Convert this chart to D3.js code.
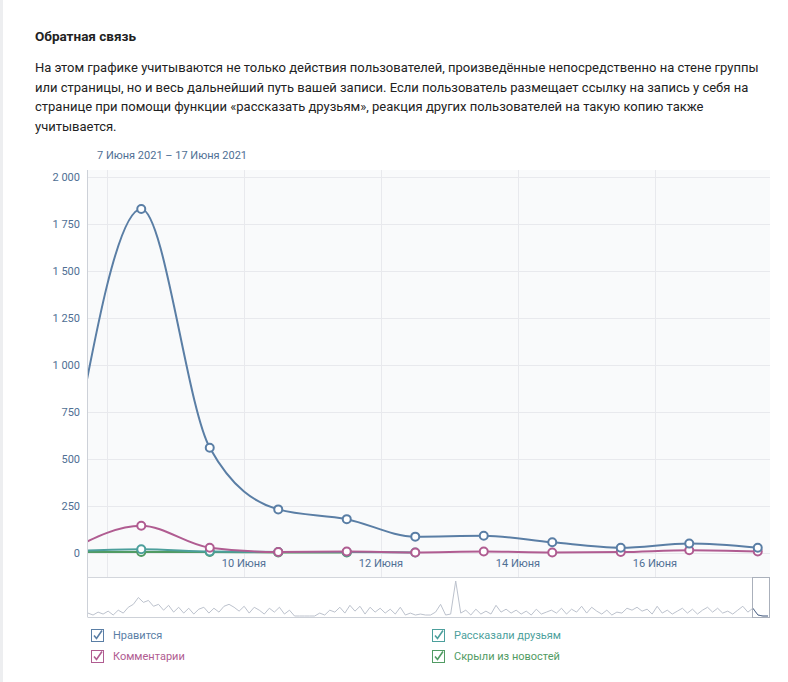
<!DOCTYPE html>
<html>
<head>
<meta charset="utf-8">
<script src="https://cdn.jsdelivr.net/npm/d3@7"></script>
<style>
  html, body { margin: 0; padding: 0; background: #fff; }
  svg { display: block; font-family: Roboto, "Open Sans", sans-serif; }
</style>
</head>
<body>
<div id="chart"></div>
<script>
// days (noon of each day)
const days = [7, 8, 9, 10, 11, 12, 13, 14, 15, 16, 17];

const likes    = [525, 1830, 560, 232, 180, 87, 92, 57, 28, 50, 28];
const comments = [24, 145, 28, 5, 8, 3, 8, 3, 5, 15, 8];
const reposts  = [10, 20, 8, 5, 5, 3];
const hidden   = [6, 5, 5, 3, 3];

const yTicks = [0, 250, 500, 750, 1000, 1250, 1500, 1750, 2000];
const xTickDays = [10, 12, 14, 16];
const gridDays = [8, 10, 12, 14, 16];

// overview strip under the chart (activity, whole period)
const overview = [
  3, 1, 4, 2, 5, 1, 6, 3, 9, 12,
  19, 14, 16, 10, 12, 6, 11, 4, 9, 3,
  8, 2, 7, 9, 3, 8, 4, 10, 12, 9,
  5, 10, 3, 9, 6, 2, 8, 4, 9, 2,
  6, 0, 0, 0, 0, 0, 3, 1, 6, 4,
  9, 3, 11, 5, 10, 2, 9, 4, 8, 3,
  7, 2, 9, 1, 3, 1, 2, 1, 1, 4,
  12, 1, 2, 36, 3, 6, 1, 7, 2, 5,
  2, 11, 4, 7, 3, 6, 2, 5, 1, 7,
  2, 4, 6, 3, 8, 2, 7, 4, 10, 3,
  9, 5, 2, 6, 1, 4, 3, 8, 6, 9,
  5, 7, 2, 10, 3, 6, 2, 5, 8, 3,
  7, 2, 6, 9, 4, 8, 3, 5, 2, 6,
  10, 4, 8, 1, 0, 0
];

const seriesNames = ["Нравится", "Комментарии", "Рассказали друзьям", "Скрыли из новостей"];
const color = {
  likes: "#5a7ea5",
  comments: "#b05c91",
  reposts: "#4c9f9c",
  hidden: "#519b63"
};

const width = 788;
const height = 682;
const plot = {left: 88, right: 770, top: 177, bottom: 553};

const svg = d3.select("#chart")
  .append("svg")
  .attr("width", width)
  .attr("height", height)
  .attr("viewBox", `0 0 ${width} ${height}`);

// left page strip
svg.append("rect").attr("x", 0).attr("y", 0).attr("width", 3).attr("height", height).attr("fill", "#edeef0");

// header text
svg.append("text")
  .attr("x", 35).attr("y", 41)
  .attr("font-size", 13.5).attr("font-weight", "bold").attr("fill", "#222")
  .text("Обратная связь");

const para = [
  "На этом графике учитываются не только действия пользователей, произведённые непосредственно на стене группы",
  "или страницы, но и весь дальнейший путь вашей записи. Если пользователь размещает ссылку на запись у себя на",
  "странице при помощи функции «рассказать друзьям», реакция других пользователей на такую копию также",
  "учитывается."
];
svg.append("g").selectAll("text")
  .data(para)
  .enter()
  .append("text")
  .attr("x", 35)
  .attr("y", (d, i) => 72 + i * 19.6)
  .attr("font-size", 13)
  .attr("fill", "#222")
  .text(d => d);

svg.append("text")
  .attr("x", 97).attr("y", 159)
  .attr("font-size", 11).attr("fill", "#4f6f94")
  .text("7 Июня 2021 – 17 Июня 2021");

// scales
const day = d => new Date(2021, 5, d);
const noon = d => new Date(2021, 5, d, 12);

const xScale = d3.scaleTime()
  .domain([day(8), day(16)])
  .range([107, 655]);

const yScale = d3.scaleLinear()
  .domain([0, 2000])
  .range([plot.bottom, plot.top]);

// plot background
svg.append("rect")
  .attr("x", plot.left).attr("y", 170)
  .attr("width", plot.right - plot.left).attr("height", 577 - 170)
  .attr("fill", "#f9fafb");

// grid
svg.append("g").selectAll("line")
  .data(yTicks)
  .enter()
  .append("line")
  .attr("x1", plot.left).attr("x2", plot.right)
  .attr("y1", d => Math.round(yScale(d)) + 0.5)
  .attr("y2", d => Math.round(yScale(d)) + 0.5)
  .attr("stroke", "#e8e9ed");

svg.append("g").selectAll("line")
  .data(gridDays)
  .enter()
  .append("line")
  .attr("x1", d => Math.round(xScale(day(d))) + 0.5)
  .attr("x2", d => Math.round(xScale(day(d))) + 0.5)
  .attr("y1", 170).attr("y2", 577)
  .attr("stroke", "#e8e9ed");

// y axis labels
svg.append("g").selectAll("text")
  .data(yTicks)
  .enter()
  .append("text")
  .attr("x", 80)
  .attr("y", d => yScale(d) + 4)
  .attr("text-anchor", "end")
  .attr("font-size", 11)
  .attr("fill", "#4f6f94")
  .text(d => d3.format(",")(d).replace(/,/g, " "));

// x axis labels
svg.append("g").selectAll("text")
  .data(xTickDays)
  .enter()
  .append("text")
  .attr("x", d => xScale(day(d)))
  .attr("y", 567)
  .attr("text-anchor", "middle")
  .attr("font-size", 11)
  .attr("fill", "#4f6f94")
  .text(d => `${d} Июня`);

// frame lines
svg.append("line").attr("x1", 87.5).attr("x2", 87.5).attr("y1", 170).attr("y2", 617).attr("stroke", "#cdd1d8");
svg.append("line").attr("x1", 87.5).attr("x2", plot.right).attr("y1", 577.5).attr("y2", 577.5).attr("stroke", "#d3d6dc");
svg.append("line").attr("x1", 87.5).attr("x2", plot.right).attr("y1", 617.5).attr("y2", 617.5).attr("stroke", "#cdd1d8");

// series
svg.append("clipPath").attr("id", "clip")
  .append("rect")
  .attr("x", plot.left).attr("y", 165)
  .attr("width", plot.right - plot.left).attr("height", 577 - 165);

const line = d3.line()
  .x((d, i) => xScale(noon(days[i])))
  .y(d => yScale(d))
  .curve(d3.curveMonotoneX);

const series = [
  {key: "hidden", values: hidden},
  {key: "reposts", values: reposts},
  {key: "comments", values: comments},
  {key: "likes", values: likes}
];

const g = svg.append("g").attr("clip-path", "url(#clip)");

series.forEach(s => {
  g.append("path")
    .datum(s.values)
    .attr("d", line)
    .attr("fill", "none")
    .attr("stroke", color[s.key])
    .attr("stroke-width", 2);

  g.selectAll(`circle.${s.key}`)
    .data(s.values)
    .enter()
    .append("circle")
    .attr("class", s.key)
    .attr("cx", (d, i) => xScale(noon(days[i])))
    .attr("cy", d => yScale(d))
    .attr("r", 4)
    .attr("fill", "#fff")
    .attr("stroke", color[s.key])
    .attr("stroke-width", 2);
});

// overview strip
const ovX = d3.scaleLinear().domain([0, overview.length - 1]).range([88, 768]);
const ovY = d3.scaleLinear().domain([0, 36]).range([616, 581]);
const ovLine = d3.line()
  .x((d, i) => ovX(i))
  .y(d => ovY(d));

svg.append("path")
  .datum(overview)
  .attr("d", ovLine)
  .attr("fill", "none")
  .attr("stroke", "#bcc2cd")
  .attr("stroke-width", 1);

svg.append("clipPath").attr("id", "sel")
  .append("rect").attr("x", 752).attr("y", 577).attr("width", 17).attr("height", 40);

svg.append("path")
  .datum(overview)
  .attr("d", ovLine)
  .attr("clip-path", "url(#sel)")
  .attr("fill", "none")
  .attr("stroke", "#5a6f90")
  .attr("stroke-width", 1);

svg.append("rect")
  .attr("x", 752.5).attr("y", 577.5)
  .attr("width", 17).attr("height", 40)
  .attr("fill", "none")
  .attr("stroke", "#aab0bb");

// legend
const legend = [
  {name: seriesNames[0], key: "likes", col: 0, row: 0},
  {name: seriesNames[1], key: "comments", col: 0, row: 1},
  {name: seriesNames[2], key: "reposts", col: 1, row: 0},
  {name: seriesNames[3], key: "hidden", col: 1, row: 1}
];

const lg = svg.append("g").selectAll("g")
  .data(legend)
  .enter()
  .append("g")
  .attr("transform", d => `translate(${d.col ? 432 : 91}, ${629 + d.row * 21})`);

lg.append("rect")
  .attr("x", 0.5).attr("y", 0.5)
  .attr("width", 12).attr("height", 12)
  .attr("fill", "#fff")
  .attr("stroke", d => color[d.key]);

lg.append("path")
  .attr("d", "M3,6.5 L5.5,9.5 L11,1.5")
  .attr("fill", "none")
  .attr("stroke", d => color[d.key])
  .attr("stroke-width", 1.6);

lg.append("text")
  .attr("x", 22)
  .attr("y", 10)
  .attr("font-size", 11)
  .attr("fill", d => color[d.key])
  .text(d => d.name);
</script>
</body>
</html>
